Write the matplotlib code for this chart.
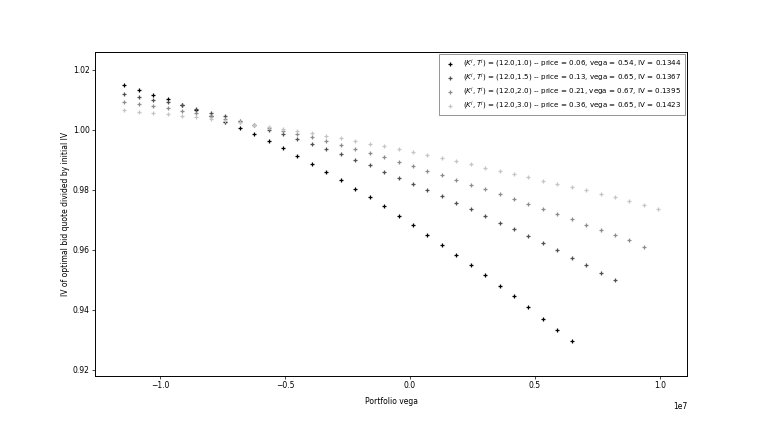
import matplotlib
matplotlib.use("Agg")
import matplotlib.pyplot as plt

# portfolio vega grid (in units of 1e6)
vega = [-11.428, -10.851, -10.274, -9.696, -9.119, -8.542, -7.965, -7.388,
        -6.810, -6.233, -5.656, -5.079, -4.502, -3.924, -3.347, -2.770,
        -2.193, -1.616, -1.038, -0.461, 0.116, 0.693, 1.270, 1.848,
        2.425, 3.002, 3.579, 4.156, 4.734, 5.311, 5.888, 6.465,
        7.042, 7.619, 8.197, 8.774, 9.351, 9.928]

iv_t10 = [1.0149, 1.0133, 1.0118, 1.0102, 1.0084, 1.0067, 1.0047, 1.0027,
          1.0007, 0.9985, 0.9963, 0.9939, 0.9913, 0.9888, 0.9861, 0.9833,
          0.9804, 0.9776, 0.9746, 0.9714, 0.9682, 0.9650, 0.9618, 0.9584,
          0.9551, 0.9516, 0.9481, 0.9447, 0.9410, 0.9371, 0.9333, 0.9296]

iv_t15 = [1.0120, 1.0110, 1.0100, 1.0092, 1.0082, 1.0071, 1.0058, 1.0045,
          1.0031, 1.0016, 1.0001, 0.9986, 0.9970, 0.9953, 0.9937, 0.9919,
          0.9900, 0.9882, 0.9861, 0.9841, 0.9821, 0.9800, 0.9779, 0.9757,
          0.9736, 0.9713, 0.9691, 0.9669, 0.9646, 0.9622, 0.9599, 0.9574,
          0.9550, 0.9524, 0.9499]

iv_t20 = [1.0094, 1.0088, 1.0080, 1.0072, 1.0064, 1.0057, 1.0048, 1.0037,
          1.0027, 1.0017, 1.0007, 0.9997, 0.9986, 0.9976, 0.9964, 0.9950,
          0.9937, 0.9923, 0.9910, 0.9894, 0.9880, 0.9864, 0.9849, 0.9833,
          0.9818, 0.9802, 0.9786, 0.9769, 0.9752, 0.9736, 0.9719, 0.9702,
          0.9684, 0.9668, 0.9650, 0.9632, 0.9611]

iv_t30 = [1.0066, 1.0061, 1.0057, 1.0052, 1.0047, 1.0042, 1.0036, 1.0031,
          1.0025, 1.0018, 1.0011, 1.0004, 0.9997, 0.9989, 0.9981, 0.9972,
          0.9963, 0.9954, 0.9946, 0.9936, 0.9926, 0.9916, 0.9906, 0.9896,
          0.9886, 0.9874, 0.9864, 0.9853, 0.9842, 0.9831, 0.9821, 0.9810,
          0.9799, 0.9788, 0.9776, 0.9763, 0.9751, 0.9738]

labels = [
    r"$(K^i,T^i)$ = (12.0,1.0) -- price = 0.06, vega = 0.54, IV = 0.1344",
    r"$(K^i,T^i)$ = (12.0,1.5) -- price = 0.13, vega = 0.65, IV = 0.1367",
    r"$(K^i,T^i)$ = (12.0,2.0) -- price = 0.21, vega = 0.67, IV = 0.1395",
    r"$(K^i,T^i)$ = (12.0,3.0) -- price = 0.36, vega = 0.65, IV = 0.1423",
]
colors = ["#000000", "#505050", "#8c8c8c", "#c4c4c4"]
series = [iv_t10, iv_t15, iv_t20, iv_t30]

fig = plt.figure(figsize=(7.64, 4.30), dpi=100)
ax = fig.add_axes([0.1247, 0.1263, 0.7749, 0.7535])

for ys, c, lab in zip(series, colors, labels):
    xs = [v * 1e6 for v in vega[:len(ys)]]
    ax.scatter(xs, ys, marker="+", s=11, linewidths=0.9, color=c, label=lab)

ax.set_xlim(-1.259e7, 1.109e7)
ax.set_ylim(0.9181, 1.0261)
ax.set_yticks([0.92, 0.94, 0.96, 0.98, 1.00, 1.02])
ax.set_xlabel("Portfolio vega", fontsize=5.5, labelpad=5)
ax.set_ylabel("IV of optimal bid quote divided by initial IV", fontsize=5.5, labelpad=2)
ax.tick_params(labelsize=5.5, length=2, width=0.5, pad=2)
ax.xaxis.get_offset_text().set_visible(False)
ax.text(1.0, -0.095, "1e7", transform=ax.transAxes, ha="right", va="center", fontsize=5.5)
for sp in ax.spines.values():
    sp.set_linewidth(0.7)

leg = ax.legend(loc="upper right", fontsize=5.1, frameon=True, handletextpad=0.9,
                borderpad=0.45, labelspacing=0.25, fancybox=False,
                borderaxespad=0.35)
leg.get_frame().set_linewidth(0.5)
leg.get_frame().set_edgecolor("#444444")

fig.savefig("out.png", dpi=100)
